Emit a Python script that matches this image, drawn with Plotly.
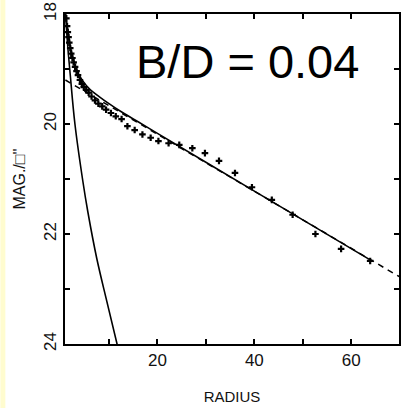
import plotly.graph_objects as go

# Surface-brightness profile: observed points and fitted components
radius_obs = [1.2, 1.35, 1.5, 1.65, 1.8, 2.0, 2.2, 2.45, 2.7, 3.0, 3.3, 3.6, 4.0, 4.4,
              4.8, 5.3, 5.8, 6.4, 7.1, 7.8, 8.6, 9.4, 10.4, 11.4, 12.6, 13.8, 15.3,
              16.9, 18.6, 20.2, 22.3, 24.5, 27.2, 29.8, 32.7, 36.0, 39.5, 43.6, 47.9,
              52.6, 57.9, 63.9]
mag_obs = [18.08, 18.22, 18.33, 18.42, 18.52, 18.62, 18.72, 18.80, 18.88, 18.96, 19.04,
           19.11, 19.20, 19.27, 19.33, 19.38, 19.43, 19.50, 19.57, 19.63, 19.68, 19.74,
           19.80, 19.86, 19.91, 20.04, 20.11, 20.19, 20.25, 20.31, 20.35, 20.38, 20.44,
           20.53, 20.67, 20.89, 21.15, 21.38, 21.65, 22.00, 22.27, 22.49]

# Bulge component
radius_bulge = [1.03, 1.5, 2.0, 2.97, 4.62, 5.64, 7.49, 9.54, 11.8]
mag_bulge = [18.0, 18.6, 19.1, 20.0, 21.05, 21.6, 22.45, 23.22, 24.05]

# Disk component (exponential, straight line in magnitudes)
radius_disk = [1.0, 70.0]
mag_disk = [19.2, 22.78]

# Bulge + disk
radius_total = [1.03, 1.33, 1.74, 2.15, 2.77, 3.59, 4.62, 6.05, 8.1, 10.15, 12.2,
                16.0, 20.0, 40.0, 63.9]
mag_total = [18.0, 18.2, 18.44, 18.65, 18.87, 19.07, 19.22, 19.37, 19.51, 19.64, 19.76,
             19.96, 20.17, 21.22, 22.47]

x_tickvals = [10, 20, 30, 40, 50, 60]
x_ticktext = ["", "20", "", "40", "", "60"]
y_tickvals = [18, 19, 20, 21, 22, 23, 24]
y_ticktext = ["18", "", "20", "", "22", "", "24"]

fig = go.Figure()

fig.add_trace(go.Scatter(x=radius_disk, y=mag_disk, mode="lines",
                         line=dict(color="black", width=1.5, dash="6px,5px"),
                         hoverinfo="skip"))
fig.add_trace(go.Scatter(x=radius_bulge, y=mag_bulge, mode="lines",
                         line=dict(color="black", width=1.6, shape="spline"),
                         hoverinfo="skip"))
fig.add_trace(go.Scatter(x=radius_total, y=mag_total, mode="lines",
                         line=dict(color="black", width=1.6, shape="spline",
                                   smoothing=0.6),
                         hoverinfo="skip"))
fig.add_trace(go.Scatter(x=radius_obs, y=mag_obs, mode="markers",
                         marker=dict(symbol="cross", size=5.5, color="black",
                                     line=dict(width=0)),
                         hoverinfo="skip"))

axis_common = dict(showgrid=False, zeroline=False, showline=True, linecolor="black",
                   linewidth=1.8, mirror="ticks", ticks="inside", ticklen=5,
                   tickwidth=1.5, tickcolor="black",
                   tickfont=dict(family="Liberation Sans, Arial", size=17, color="#111"))

fig.update_xaxes(range=[0.92, 69.85], tickmode="array", tickvals=x_tickvals,
                 ticktext=x_ticktext,
                 title=dict(text="RADIUS", standoff=22,
                            font=dict(family="Liberation Sans, Arial", size=15,
                                      color="#111")),
                 **axis_common)
fig.update_yaxes(range=[24, 18], tickmode="array", tickvals=y_tickvals,
                 ticktext=y_ticktext, tickangle=-90,
                 title=dict(text="MAG./□''", standoff=12,
                            font=dict(family="Liberation Sans, Arial", size=16,
                                      color="#111")),
                 **axis_common)

fig.add_annotation(x=0.545, y=0.855, xref="paper", yref="paper", text="B/D = 0.04",
                   xanchor="center", yanchor="middle", showarrow=False,
                   font=dict(family="Liberation Sans, Arial", size=47, color="black"))

# pale yellow strip along the left edge of the page
fig.add_shape(type="rect", xref="paper", yref="paper", x0=-65 / 336, x1=-60 / 336,
              y0=-64 / 330, y1=1 + 14 / 330, fillcolor="#FFFCCF", line=dict(width=0),
              layer="below")

fig.update_layout(width=403, height=408, margin=dict(l=65, r=2, t=14, b=64),
                  paper_bgcolor="white", plot_bgcolor="white", showlegend=False)

fig.write_html("out.html")
